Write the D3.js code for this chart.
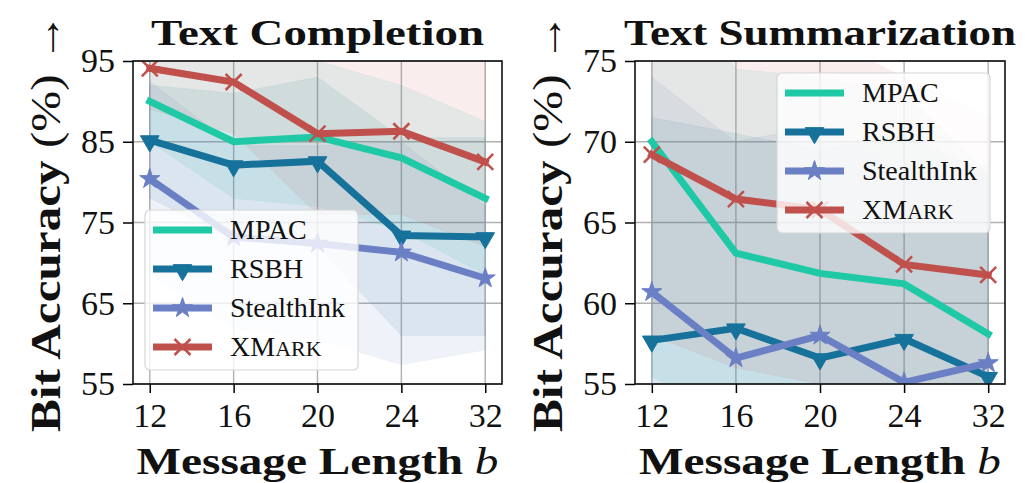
<!DOCTYPE html>
<html>
<head>
<meta charset="utf-8">
<script src="https://cdnjs.cloudflare.com/ajax/libs/d3/7.8.5/d3.min.js"></script>
<style>
  body { margin: 0; background: #fff; }
  svg { display: block; font-family: "Liberation Serif", "Times New Roman", serif; }
</style>
</head>
<body>
<svg id="chart" width="1025" height="483"></svg>
<script>
var messageLengths = ["12", "16", "20", "24", "32"];
var methods = ["MPAC", "RSBH", "StealthInk", "XMark"];

// Text Completion (mean, lower and upper edge of the shaded band)
var completionMPAC = [90.0, 85.0, 85.6, 83.0, 78.0];
var completionMPACLow = [85, 78, 77, 74, 68.5];
var completionMPACHigh = [95, 96, 95, 92, 87.5];
var completionRSBH = [85.2, 82.1, 82.6, 73.4, 73.2];
var completionRSBHLow = [78, 73, 72, 61, 61];
var completionRSBHHigh = [92, 91, 93, 85.5, 85.5];
var completionStealth = [80.4, 73.2, 72.4, 71.3, 68.1];
var completionStealthLow = [68.5, 62, 60.5, 57.4, 59.2];
var completionStealthHigh = [92.5, 84.5, 84.5, 85, 77];
var completionXMark = [94.1, 92.4, 86.0, 86.3, 82.5];
var completionXMarkLow = [89, 86, 76, 76, 72];
var completionXMarkHigh = [99.5, 99, 97, 97, 97];
var completionTicks = [55, 65, 75, 85, 95];

// Text Summarization
var summaryMPAC = [70.0, 63.1, 61.85, 61.2, 58.1];
var summaryMPACLow = [55.5, 52, 50, 50, 48];
var summaryMPACHigh = [82, 74.5, 74, 73, 68];
var summaryRSBH = [57.7, 58.45, 56.6, 57.8, 55.45];
var summaryRSBHLow = [44, 46, 44, 45, 43];
var summaryRSBHHigh = [71.5, 70.5, 69.5, 70.5, 68];
var summaryStealth = [60.7, 56.6, 58.0, 55.1, 56.3];
var summaryStealthLow = [47, 43, 45, 42, 44];
var summaryStealthHigh = [74, 70, 71, 68, 68.5];
var summaryXMark = [69.2, 66.45, 65.8, 62.4, 61.75];
var summaryXMarkLow = [58, 56, 55, 52, 52];
var summaryXMarkHigh = [80, 76.5, 76.5, 74, 71.5];
var summaryTicks = [55, 60, 65, 70, 75];

var colors = ["#1fc9a6", "#17729b", "#6b7fc5", "#c0504c"];
var markers = ["none", "triangle", "star", "cross"];

var svg = d3.select("#chart");

drawPanel({
    id: "completion",
    left: 133, right: 502, top: 61, bottom: 384,
    yDomain: [55, 95], yTicks: completionTicks,
    title: "Text Completion", titleLength: 333,
    yLabelX: 60,
    legend: { x: 145, y: 210 },
    series: [
        { mean: completionMPAC, low: completionMPACLow, high: completionMPACHigh },
        { mean: completionRSBH, low: completionRSBHLow, high: completionRSBHHigh },
        { mean: completionStealth, low: completionStealthLow, high: completionStealthHigh },
        { mean: completionXMark, low: completionXMarkLow, high: completionXMarkHigh }
    ]
});

drawPanel({
    id: "summary",
    left: 635, right: 1005, top: 61, bottom: 384,
    yDomain: [55, 75], yTicks: summaryTicks,
    title: "Text Summarization", titleLength: 392,
    yLabelX: 562,
    legend: { x: 777, y: 73 },
    series: [
        { mean: summaryMPAC, low: summaryMPACLow, high: summaryMPACHigh },
        { mean: summaryRSBH, low: summaryRSBHLow, high: summaryRSBHHigh },
        { mean: summaryStealth, low: summaryStealthLow, high: summaryStealthHigh },
        { mean: summaryXMark, low: summaryXMarkLow, high: summaryXMarkHigh }
    ]
});

function drawMarker(sel, type, color, cx, cy) {
    if (type === "triangle") {
        sel.append("path")
            .attr("d", d3.symbol().type(d3.symbolTriangle).size(150)())
            .attr("transform", "translate(" + cx + "," + (cy + 1) + ") rotate(180)")
            .attr("fill", color).attr("stroke", color).attr("stroke-width", 1);
    } else if (type === "star") {
        sel.append("path")
            .attr("d", d3.symbol().type(d3.symbolStar).size(125)())
            .attr("transform", "translate(" + cx + "," + cy + ")")
            .attr("fill", color).attr("stroke", color).attr("stroke-width", 1);
    } else if (type === "cross") {
        var r = 8;
        sel.append("path")
            .attr("d", "M" + (cx - r) + "," + (cy - r) + "L" + (cx + r) + "," + (cy + r) +
                       "M" + (cx - r) + "," + (cy + r) + "L" + (cx + r) + "," + (cy - r))
            .attr("fill", "none").attr("stroke", color).attr("stroke-width", 2.5);
    }
}

function drawPanel(o) {
    var g = svg.append("g").attr("class", "panel-" + o.id);

    var x = d3.scaleLinear().domain([-0.2, 4.2]).range([o.left, o.right]);
    var y = d3.scaleLinear().domain(o.yDomain).range([o.bottom, o.top]);
    var idx = d3.range(messageLengths.length);

    svg.append("clipPath").attr("id", "clip-" + o.id)
        .append("rect")
        .attr("x", o.left).attr("y", o.top)
        .attr("width", o.right - o.left).attr("height", o.bottom - o.top);

    //grid
    g.append("g").selectAll("line")
        .data(idx).enter().append("line")
        .attr("x1", function (d) { return x(d); }).attr("x2", function (d) { return x(d); })
        .attr("y1", o.top).attr("y2", o.bottom)
        .attr("stroke", "#b0b0b0").attr("stroke-width", 1.4);
    g.append("g").selectAll("line")
        .data(o.yTicks).enter().append("line")
        .attr("x1", o.left).attr("x2", o.right)
        .attr("y1", function (d) { return y(d); }).attr("y2", function (d) { return y(d); })
        .attr("stroke", "#b0b0b0").attr("stroke-width", 1.4);

    var plot = g.append("g").attr("clip-path", "url(#clip-" + o.id + ")");

    //bands first, all of them
    var area = d3.area()
        .x(function (d, i) { return x(i); })
        .y0(function (d) { return y(d[0]); })
        .y1(function (d) { return y(d[1]); });
    o.series.forEach(function (s, k) {
        plot.append("path")
            .datum(d3.zip(s.low, s.high))
            .attr("d", area)
            .attr("fill", colors[k]).attr("fill-opacity", 0.1)
            .attr("stroke", colors[k]).attr("stroke-opacity", 0.06);
    });

    //lines with markers
    var line = d3.line()
        .x(function (d, i) { return x(i); })
        .y(function (d) { return y(d); });
    o.series.forEach(function (s, k) {
        var sg = plot.append("g");
        sg.append("path")
            .datum(s.mean)
            .attr("d", line)
            .attr("fill", "none")
            .attr("stroke", colors[k]).attr("stroke-width", 7)
            .attr("stroke-linejoin", "miter").attr("stroke-linecap", "square");
        s.mean.forEach(function (v, i) {
            drawMarker(sg, markers[k], colors[k], x(i), y(v));
        });
    });

    //axes
    var xAxis = g.append("g")
        .attr("transform", "translate(0," + o.bottom + ")")
        .call(d3.axisBottom(x).tickValues(idx)
            .tickFormat(function (d) { return messageLengths[d]; })
            .tickSize(9).tickPadding(10));
    var yAxis = g.append("g")
        .attr("transform", "translate(" + o.left + ",0)")
        .call(d3.axisLeft(y).tickValues(o.yTicks).tickSize(10).tickPadding(8));
    [xAxis, yAxis].forEach(function (a) {
        a.select(".domain").remove();
        a.selectAll(".tick line").attr("stroke", "#000").attr("stroke-width", 1.5);
        a.selectAll(".tick text")
            .attr("fill", "#111")
            .style("font-family", "'Liberation Serif', serif")
            .style("font-size", "34px");
    });

    //spines
    g.append("rect")
        .attr("x", o.left).attr("y", o.top)
        .attr("width", o.right - o.left).attr("height", o.bottom - o.top)
        .attr("fill", "none").attr("stroke", "#111").attr("stroke-width", 1.6);

    //legend
    var lg = g.append("g").attr("transform", "translate(" + o.legend.x + "," + o.legend.y + ")");
    lg.append("rect")
        .attr("width", 213).attr("height", 160).attr("rx", 5)
        .attr("fill", "#fff").attr("fill-opacity", 0.8)
        .attr("stroke", "#d6d6d6").attr("stroke-width", 1.2);
    methods.forEach(function (name, k) {
        var cy = 20 + 39 * k;
        lg.append("line")
            .attr("x1", 8).attr("x2", 67).attr("y1", cy).attr("y2", cy)
            .attr("stroke", colors[k]).attr("stroke-width", 7).attr("stroke-linecap", "butt");
        drawMarker(lg, markers[k], colors[k], 37.5, cy);
        var t = lg.append("text")
            .attr("x", 85).attr("y", cy + 9)
            .attr("font-size", 28).attr("fill", "#111");
        if (name === "XMark") {
            t.append("tspan").text("XM");
            t.append("tspan").attr("font-size", 22).text("ARK");
        } else {
            t.text(name);
        }
    });

    //title
    g.append("text")
        .attr("x", (o.left + o.right) / 2).attr("y", 45)
        .attr("text-anchor", "middle")
        .attr("font-size", 36).attr("font-weight", "bold").attr("fill", "#111")
        .attr("textLength", o.titleLength).attr("lengthAdjust", "spacingAndGlyphs")
        .text(o.title);

    //x label
    var xl = g.append("text")
        .attr("x", (o.left + o.right) / 2).attr("y", 474)
        .attr("text-anchor", "middle")
        .attr("font-size", 38).attr("fill", "#111")
        .attr("textLength", 362).attr("lengthAdjust", "spacingAndGlyphs");
    xl.append("tspan").attr("font-weight", "bold").text("Message Length ");
    xl.append("tspan").attr("font-style", "italic").text("b");

    //y label
    var yl = g.append("text")
        .attr("transform", "translate(" + o.yLabelX + ",432) rotate(-90)")
        .attr("font-size", 42).attr("fill", "#111")
        .attr("textLength", 419).attr("lengthAdjust", "spacingAndGlyphs");
    yl.append("tspan").attr("font-weight", "bold").text("Bit Accuracy");
    yl.append("tspan").text(" (%) \u2192");
}
</script>
</body>
</html>
